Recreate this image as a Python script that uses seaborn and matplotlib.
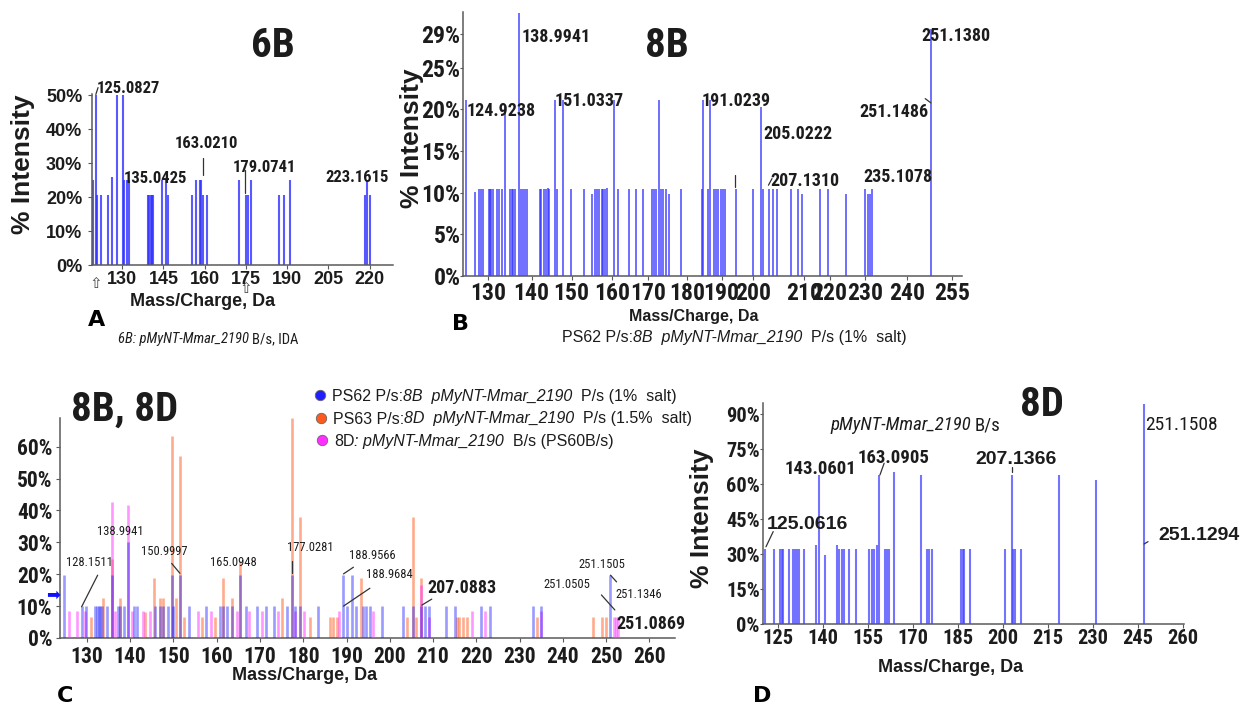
import matplotlib
matplotlib.use('Agg')
import matplotlib.pyplot as plt
from matplotlib import font_manager
import seaborn as sns

W, H = 1240, 706

# -----------------
# data: panel A (6B, B/s IDA)
# -----------------
A_MZ = [119.5, 120.3, 120.9, 122.1, 124.9, 126.1, 128.2, 130.4, 130.8, 131.8,
        132.5, 139.5, 139.9, 140.4, 140.9, 141.3, 144.3, 146.0, 146.7, 155.5,
        156.7, 158.2, 158.8, 159.5, 160.7, 172.5, 175.1, 175.7, 176.7, 187.2,
        188.8, 191.2, 218.2, 219.1, 220.1]
A_INT = [25.0, 50.0, 20.7, 20.7, 20.7, 26.0, 50.0, 50.0, 25.0, 25.0,
         25.0, 20.7, 20.7, 20.7, 20.7, 20.7, 25.0, 25.0, 20.7, 20.7,
         25.0, 25.0, 25.0, 20.7, 20.7, 25.0, 20.7, 20.7, 25.0, 20.7,
         20.7, 25.0, 20.7, 25.0, 20.7]
A_XTICKS = [130, 145, 160, 175, 190, 205, 220]
A_YTICKS = [0, 10, 20, 30, 40, 50]

# -----------------
# data: panel B (8B, PS62 P/s)
# -----------------
B_MZ = [124.5, 126.6, 127.6, 128.2, 128.6, 130.1, 130.4, 130.8, 131.3, 132.1,
        132.7, 133.4, 134.2, 135.5, 135.9, 136.3, 136.7, 137.7, 138.2, 138.7,
        139.2, 139.8, 143.0, 143.4, 144.0, 144.5, 145.0, 145.4, 146.9, 147.2,
        148.9, 150.8, 154.2, 156.2, 156.9, 157.3, 158.0, 158.6, 159.0, 159.4,
        160.0, 161.8, 162.8, 165.5, 167.2, 169.1, 171.2, 171.8, 172.3, 172.9,
        173.4, 174.1, 174.7, 175.6, 178.6, 183.8, 184.0, 185.4, 185.9, 186.9,
        187.4, 188.0, 188.6, 189.1, 189.7, 192.4, 196.8, 198.7, 199.2, 200.8,
        201.7, 202.7, 206.2, 208.0, 209.0, 213.6, 215.5, 220.2, 225.0, 225.8,
        226.2, 226.8, 241.5]
B_INT = [21.1, 10.1, 10.4, 10.4, 10.4, 10.4, 10.4, 10.4, 10.4, 10.4,
         10.4, 10.4, 20.3, 10.4, 10.4, 10.4, 10.4, 31.6, 10.4, 10.4,
         10.4, 10.4, 10.4, 10.4, 10.4, 10.4, 10.6, 10.4, 21.1, 10.4,
         21.1, 10.4, 10.4, 9.8, 10.4, 10.4, 10.4, 10.4, 10.4, 10.4,
         10.6, 21.1, 10.4, 10.4, 10.4, 10.4, 10.4, 10.4, 10.4, 21.1,
         10.4, 10.4, 10.4, 9.8, 10.4, 10.4, 21.1, 10.4, 21.1, 10.4,
         10.4, 10.4, 10.4, 10.4, 10.4, 10.4, 10.4, 20.3, 10.4, 10.4,
         10.4, 10.4, 10.4, 10.4, 9.8, 10.4, 10.4, 9.8, 10.4, 9.8,
         9.8, 10.4, 29.7]
B_XTICK_POS = [130, 140.9, 151, 161.1, 170.3, 180, 188.8, 196.8, 209.6, 216, 225, 235.5, 246.8]
B_XTICK_LAB = ['130', '140', '150', '160', '170', '180', '190', '200', '210', '220', '230', '240', '255']
B_YTICKS = [0, 5, 10, 15, 20, 25, 29]

# -----------------
# data: panel C (8B vs 8D overlay)
# -----------------
C_BLUE_MZ = [124.8, 128.8, 129.8, 131.9, 132.3, 132.7, 133.1, 133.5, 134.6, 135.8,
             137.1, 137.7, 138.6, 139.6, 140.8, 141.5, 145.8, 146.8, 147.7, 148.8,
             149.6, 150.0, 151.5, 153.7, 157.5, 160.8, 161.5, 162.3, 163.5, 165.5,
             166.8, 169.4, 171.4, 173.2, 176.2, 177.5, 178.1, 179.2, 183.5, 189.2,
             190.0, 191.2, 192.3, 193.8, 194.6, 195.4, 198.3, 203.1, 205.3, 207.3,
             208.1, 209.1, 213.1, 215.1, 221.0, 223.1, 233.0, 235.0, 250.9]
C_BLUE_INT = [19.8, 9.9, 9.9, 9.9, 9.9, 9.9, 9.9, 9.9, 9.9, 19.8,
              9.9, 9.9, 9.9, 30.0, 9.9, 9.9, 9.9, 9.9, 9.9, 9.9,
              19.8, 9.9, 19.8, 9.9, 9.9, 9.9, 9.9, 9.9, 9.9, 19.8,
              9.9, 9.9, 9.9, 9.9, 9.9, 19.8, 9.9, 9.9, 9.9, 19.8,
              9.9, 19.8, 9.9, 9.9, 9.9, 9.9, 9.9, 9.9, 9.9, 9.9,
              9.9, 9.9, 9.9, 9.9, 9.9, 9.9, 9.9, 9.9, 19.7]
C_ORANGE_MZ = [130.9, 133.8, 135.8, 137.7, 143.5, 145.6, 146.8, 147.7, 149.6, 150.6,
               151.5, 152.5, 156.5, 159.6, 161.5, 163.5, 165.5, 175.2, 177.5, 179.2,
               181.5, 186.2, 186.9, 187.7, 193.3, 204.0, 205.3, 206.0, 207.1, 215.6,
               216.1, 217.0, 217.8, 233.9, 246.9, 249.0, 250.0]
C_ORANGE_INT = [6.6, 12.5, 24.7, 12.5, 8.3, 18.8, 12.5, 12.5, 63.4, 12.5,
                57.1, 6.5, 6.5, 6.5, 18.8, 12.5, 24.0, 12.5, 68.9, 38.1,
                6.5, 6.5, 6.5, 6.5, 18.8, 6.5, 38.1, 6.5, 18.7, 6.5,
                6.5, 6.5, 6.5, 6.5, 6.5, 6.5, 6.5]
C_PINK_MZ = [125.8, 127.7, 129.5, 135.8, 136.5, 139.6, 140.4, 142.9, 144.6, 155.6,
             158.7, 164.6, 167.5, 170.4, 174.2, 178.1, 180.2, 188.3, 196.2, 207.1,
             209.1, 218.9, 222.0, 235.0, 251.8, 252.3, 252.8]
C_PINK_INT = [8.4, 8.4, 8.4, 42.5, 8.4, 41.8, 8.4, 8.4, 8.4, 8.4,
              8.4, 8.4, 8.4, 8.4, 8.4, 8.4, 8.4, 8.4, 8.4, 16.6,
              6.5, 8.4, 8.4, 8.4, 6.5, 6.5, 6.5]
C_XTICKS = [130, 140, 150, 160, 170, 180, 190, 200, 210, 220, 230, 240, 250, 260]
C_YTICKS = [0, 10, 20, 30, 40, 50, 60]
C_SERIES = ['PS62 P/s:8B', 'PS63 P/s:8D', '8D B/s']

# -----------------
# data: panel D (8D, B/s)
# -----------------
D_MZ = [120.6, 123.7, 125.6, 126.1, 126.7, 128.6, 130.0, 130.6, 131.3, 131.9,
        133.7, 137.6, 138.6, 140.6, 144.7, 145.3, 146.1, 146.9, 148.7, 150.8,
        155.3, 156.1, 156.9, 157.8, 158.7, 160.6, 161.1, 161.9, 163.6, 172.5,
        174.7, 175.3, 176.1, 185.8, 186.5, 186.9, 188.9, 200.6, 202.8, 203.3,
        203.9, 205.9, 218.7, 230.9, 246.9]
D_INT = [32.0, 32.0, 32.0, 32.0, 32.0, 32.0, 32.0, 32.0, 32.0, 32.0,
         32.0, 33.9, 63.9, 29.6, 33.9, 32.0, 32.0, 32.0, 32.0, 32.0,
         32.0, 32.0, 32.0, 33.9, 63.9, 32.0, 32.0, 32.0, 65.3, 63.9,
         32.0, 32.0, 32.0, 32.0, 32.0, 32.0, 32.0, 32.0, 63.9, 32.0,
         32.0, 32.0, 63.9, 61.7, 94.3]
D_XTICKS = [125, 140, 155, 170, 185, 200, 215, 230, 245, 260]
D_YTICKS = [0, 15, 30, 45, 60, 75, 90]

# -----------------
# style
# -----------------
sns.set_theme(style='ticks')
installed = {f.name for f in font_manager.fontManager.ttflist}
NARROW, NS = 'Liberation Sans', 0.84   # no condensed face -> shrink Arial-metric text
for cand in ['Liberation Sans Narrow', 'Arial Narrow', 'Roboto Condensed', 'Open Sans Condensed']:
    if cand in installed:
        NARROW, NS = cand, 1.0
        break
plt.rcParams['font.family'] = ['Liberation Sans', 'DejaVu Sans']
INK = '#1c1c1c'
SPINE = '#5a5a5a'
LEAD = '#333333'

fig = plt.figure(figsize=(W / 100, H / 100), dpi=100)
fig.patch.set_facecolor('white')


def px_axes(left, top, right, bottom):
    ax = fig.add_axes([left / W, 1 - bottom / H, (right - left) / W, (bottom - top) / H])
    ax.set_facecolor('none')
    sns.despine(ax=ax)
    for s in ('left', 'bottom'):
        ax.spines[s].set_color(SPINE)
        ax.spines[s].set_linewidth(1.1)
    return ax


def fig_text(x, y, s, **kw):
    kw.setdefault('color', INK)
    kw.setdefault('va', 'center_baseline')
    return fig.text(x / W, 1 - y / H, s, **kw)


def rich_text(x, y, parts, **kw):
    # pieces of mixed upright / italic text laid side by side
    r = fig.canvas.get_renderer()
    for s, style in parts:
        fig_text(x, y, s, fontstyle=style, ha='left', **kw)
        probe = fig.text(0, 0, '|' + s + '|', fontstyle=style, **kw)
        ref = fig.text(0, 0, '||', fontstyle=style, **kw)
        x += probe.get_window_extent(r).width - ref.get_window_extent(r).width
        probe.remove()
        ref.remove()


def finish(ax, xlim, ylim, xt, xtl, yt, font, size, xpad, ypad, ylen=3):
    ax.set_xlim(xlim)
    ax.set_ylim(ylim)
    tk = dict(fontfamily=font, fontsize=size, fontweight='bold', color=INK)
    ax.set_xticks(xt, xtl, **tk)
    ax.set_yticks(yt, [f'{v}%' for v in yt], **tk)
    ax.tick_params(axis='x', length=3, width=0.8, color=SPINE, pad=xpad)
    ax.tick_params(axis='y', length=ylen, width=0.8, color=SPINE, pad=ypad)


def axis_labels(ax, xlab, xsize, ylab=None):
    ax.set_xlabel('Mass/Charge, Da', fontsize=xsize, fontweight='bold', color=INK)
    ax.xaxis.label.set_va('center_baseline')
    ax.xaxis.set_label_coords(xlab[0] / W, 1 - xlab[1] / H, transform=fig.transFigure)
    if ylab is not None:
        ax.set_ylabel('% Intensity', fontsize=19, fontweight='bold', color=INK)
        ax.yaxis.label.set_va('center')
        ax.yaxis.label.set_ha('center')
        ax.yaxis.set_label_coords(ylab[0] / W, 1 - ylab[1] / H, transform=fig.transFigure)


def peak_labels(ax, items, **kw):
    for s, x, y, ha in items:
        ax.text(x, y, s, ha=ha, va='center_baseline', color=INK, clip_on=False, **kw)


def leaders(ax, segs):
    for (x0, y0), (x1, y1) in segs:
        ax.plot([x0, x1], [y0, y1], color=LEAD, lw=0.9, clip_on=False, zorder=5)


TITLE = dict(fontfamily=NARROW, fontsize=29.5 if NS == 1.0 else 27, fontweight='bold', ha='center')
LETTER = dict(fontfamily='DejaVu Sans', fontsize=16, fontweight='heavy', ha='center', color='black')

# -----------------
# A: 6B
# -----------------
axA = px_axes(92, 93.7, 393, 265)
axA.vlines(A_MZ, 0, A_INT, colors='#3030ff', linewidth=1.5, alpha=0.8)
finish(axA, (119, 228.5), (0, 50.5), A_XTICKS, [str(v) for v in A_XTICKS], A_YTICKS,
       'Liberation Sans', 13, xpad=1, ypad=4)
axis_labels(axA, (203, 300), 13, ylab=(23, 164))
peak_labels(axA, [('125.0827', 120.8, 52.6, 'left'), ('135.0425', 130.4, 26.0, 'left'),
                  ('163.0210', 160.7, 36.3, 'center'), ('179.0741', 181.6, 29.3, 'center'),
                  ('223.1615', 215.3, 26.2, 'center')],
            fontfamily=NARROW, fontsize=12 * NS, fontweight='bold')
leaders(axA, [((120.4, 50.3), (121.2, 52.3)), ((159.3, 26.5), (159.3, 31.4)),
              ((174.6, 21.1), (174.6, 28.0))])
fig_text(273, 42, '6B', **TITLE)
fig_text(96, 282, '\u21e7', fontfamily='DejaVu Sans', fontsize=11, ha='center', color='#444444')
fig_text(246, 287, '\u21e7', fontfamily='DejaVu Sans', fontsize=11, ha='center', color='#444444')
fig_text(96.5, 318, 'A', **LETTER)
rich_text(118, 338, [('6B: pMyNT-Mmar_2190 ', 'italic'), ('B/s, IDA', 'normal')],
          fontfamily=NARROW, fontsize=10.5 * NS)

# -----------------
# B: 8B
# -----------------
axB = px_axes(463.3, 12, 961.7, 276)
axB.vlines(B_MZ, 0, B_INT, colors='#3030ff', linewidth=1.3, alpha=0.75)
finish(axB, (123.7, 249.3), (0, 31.7), B_XTICK_POS, B_XTICK_LAB, B_YTICKS,
       NARROW, 17 * NS, xpad=1.5, ypad=0, ylen=2)
axis_labels(axB, (693.6, 315), 11.5, ylab=(411.7, 138))
peak_labels(axB, [('138.9941', 138.4, 28.9, 'left'), ('124.9238', 124.6, 20.1, 'left'),
                  ('151.0337', 146.6, 21.2, 'left'), ('191.0239', 183.8, 21.2, 'left'),
                  ('205.0222', 199.2, 17.3, 'left'), ('207.1310', 201.0, 11.7, 'left'),
                  ('235.1078', 224.5, 12.1, 'left'), ('251.1486', 223.5, 19.9, 'left'),
                  ('251.1380', 239.2, 29.1, 'left')],
            fontfamily=NARROW, fontsize=13 * NS, fontweight='bold')
leaders(axB, [((200.6, 10.9), (201.5, 11.7)), ((240.1, 21.3), (241.5, 20.8)),
              ((192.2, 10.7), (192.2, 12.1))])
fig_text(666.7, 42, '8B', **TITLE)
fig_text(461, 322, 'B', **LETTER)
rich_text(561.7, 336, [('PS62 P/s:', 'normal'), ('8B  pMyNT-Mmar_2190  ', 'italic'),
                       ('P/s (1%  salt)', 'normal')], fontfamily='Liberation Sans', fontsize=11.5)

# -----------------
# C: 8B, 8D overlay
# -----------------
C_COLORS = ['#2020ff', '#ff5a1e', '#ff30ff']
axC = px_axes(60, 418.3, 675, 638)
axC.vlines(C_ORANGE_MZ, 0, C_ORANGE_INT, colors=C_COLORS[1], linewidth=1.9, alpha=0.5, zorder=2)
axC.vlines(C_PINK_MZ, 0, C_PINK_INT, colors=C_COLORS[2], linewidth=1.9, alpha=0.5, zorder=3)
axC.vlines(C_BLUE_MZ, 0, C_BLUE_INT, colors=C_COLORS[0], linewidth=1.9, alpha=0.45, zorder=4)
finish(axC, (123.8, 265.9), (0, 68.9), C_XTICKS, [str(v) for v in C_XTICKS], C_YTICKS,
       NARROW, 15.5 * NS, xpad=2.5, ypad=2.5)
axis_labels(axC, (305, 673), 13)
peak_labels(axC, [('128.1511', 130.6, 24.0, 'center'), ('138.9941', 137.7, 33.9, 'center'),
                  ('150.9997', 147.9, 27.6, 'center'), ('165.0948', 163.8, 24.0, 'center'),
                  ('177.0281', 181.7, 28.7, 'center'), ('188.9566', 196.0, 26.4, 'center'),
                  ('188.9684', 199.8, 20.3, 'center'), ('251.1505', 249.1, 23.5, 'center'),
                  ('251.0505', 241.0, 17.2, 'center'), ('251.1346', 252.2, 14.0, 'left')],
            fontfamily=NARROW, fontsize=9 * NS)
peak_labels(axC, [('207.0883', 208.8, 16.4, 'left'), ('251.0869', 252.4, 5.0, 'left')],
            fontfamily=NARROW, fontsize=13 * NS, fontweight='bold')
leaders(axC, [((132.5, 19.7), (128.8, 9.8)), ((149.6, 23.4), (151.5, 20.3)),
              ((177.5, 20.5), (177.5, 24.0)), ((191.6, 22.2), (189.3, 20.1)),
              ((195.4, 15.6), (189.3, 10.0)), ((209.7, 12.2), (207.4, 10.3)),
              ((248.9, 13.5), (252.0, 8.8)), ((251.0, 19.7), (252.4, 17.6))])
fig_text(124.2, 406, '8B, 8D', **TITLE)
fig_text(53.3, 593.3, '\u27a1', fontfamily='DejaVu Sans', fontsize=12, ha='center', color='#1010ff')
fig_text(65, 694, 'C', **LETTER)

# legend of panel C
legend_rows = [
    [('PS62 P/s:', 'normal'), ('8B  pMyNT-Mmar_2190  ', 'italic'), ('P/s (1%  salt)', 'normal')],
    [('PS63 P/s:', 'normal'), ('8D  pMyNT-Mmar_2190  ', 'italic'), ('P/s (1.5%  salt)', 'normal')],
    [('8D', 'normal'), (': pMyNT-Mmar_2190  ', 'italic'), ('B/s (PS60B/s)', 'normal')],
]
for i, (name, color, row) in enumerate(zip(C_SERIES, C_COLORS, legend_rows)):
    dot_x, dot_y = 320 + 1.2 * i, 395 + 22.5 * i
    axC.plot([dot_x / W], [1 - dot_y / H], 'o', transform=fig.transFigure, ms=7.5,
             mfc=color, mec='#666666', mew=0.6, clip_on=False, label=name)
    rich_text(dot_x + 11.5, dot_y, row, fontfamily='Liberation Sans', fontsize=11.5)

# -----------------
# D: 8D
# -----------------
axD = px_axes(763.3, 403.3, 1184, 624)
axD.vlines(D_MZ, 0, D_INT, colors='#4646ff', linewidth=1.5, alpha=0.75)
finish(axD, (120, 260.3), (0, 94.6), D_XTICKS, [str(v) for v in D_XTICKS], D_YTICKS,
       NARROW, 14.7 * NS, xpad=0.5, ypad=0.5, ylen=2)
axis_labels(axD, (951, 665), 13, ylab=(701.7, 518))
peak_labels(axD, [('251.1508', 247.3, 86.0, 'left')], fontfamily=NARROW, fontsize=14 * NS)
peak_labels(axD, [('143.0601', 127.2, 67.2, 'left'), ('163.0905', 151.6, 72.2, 'left')],
            fontfamily=NARROW, fontsize=13.5 * NS, fontweight='bold')
peak_labels(axD, [('207.1366', 190.6, 71.5, 'left'), ('125.0616', 121.2, 43.6, 'left'),
                  ('251.1294', 251.6, 38.6, 'left')],
            fontfamily='Liberation Sans', fontsize=14, fontweight='bold')
leaders(axD, [((160.3, 68.9), (158.9, 63.9)), ((203.0, 65.3), (203.0, 67.4)),
              ((123.3, 39.6), (120.9, 33.1)), ((248.3, 35.3), (247.0, 34.3))])
fig_text(1041.7, 401, '8D', **TITLE)
rich_text(830, 423.3, [('pMyNT-Mmar_2190 ', 'italic'), ('B/s', 'normal')],
          fontfamily=NARROW, fontsize=13.5 * NS)
fig_text(762.5, 694, 'D', **LETTER)

fig.savefig('out.png', dpi=100, facecolor='white')
